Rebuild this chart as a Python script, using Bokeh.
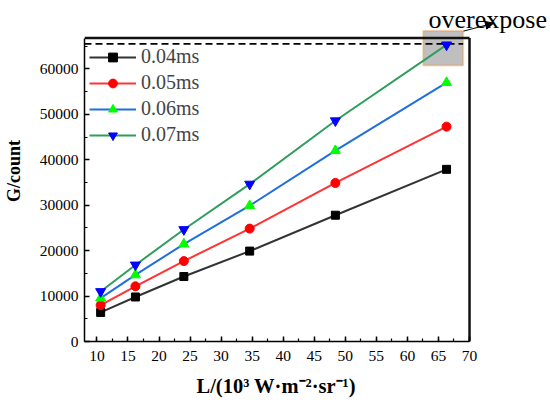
from bokeh.plotting import figure
from bokeh.models import (Range1d, BoxAnnotation, Arrow, NormalHead, Label,
                          Legend, LegendItem, SingleIntervalTicker, Title, Span)
from bokeh.embed import file_html
from bokeh.resources import INLINE

# ---- data ----
radiance = [10.6, 16.2, 24.0, 34.6, 48.4, 66.3]
g_004 = [6400, 9800, 14300, 19900, 27800, 37900]
g_005 = [8000, 12150, 17700, 24850, 34900, 47300]
g_006 = [9550, 14650, 21450, 29900, 42000, 57000]
g_007 = [11000, 16850, 24650, 34650, 48600, 65300]
series_labels = ["0.04ms", "0.05ms", "0.06ms", "0.07ms"]
saturation = 65535
overexpose_text = "overexpose"
x_label = "L/(10\u00b3 W\u00b7m\u207b\u00b2\u00b7sr\u207b\u00b9)"
y_label = "G/count"

# extents of the drawn axes box (the frame itself is larger so that the
# annotation above/right of the axes box is not clipped)
x_min, x_max = 8, 70
y_min, y_max = 0, 66800

SERIF = "Liberation Serif"

p = figure(width=550, height=406, output_backend="svg", toolbar_location=None,
           x_range=Range1d(x_min, 83.04), y_range=Range1d(y_min, 75068),
           min_border_left=84, min_border_right=0, min_border_top=0,
           min_border_bottom=61, background_fill_color="white",
           border_fill_color="white")
p.title.visible = False
p.grid.visible = False
p.outline_line_color = None

p.xaxis.ticker = SingleIntervalTicker(interval=5, num_minor_ticks=2)
p.yaxis.ticker = SingleIntervalTicker(interval=10000, num_minor_ticks=2)
p.xaxis.bounds = (x_min, x_max)
p.yaxis.bounds = (y_min, y_max)
for ax in (p.xaxis[0], p.yaxis[0]):
    ax.axis_line_width = 1.5
    ax.axis_line_color = "black"
    ax.major_tick_in = 5
    ax.major_tick_out = 0
    ax.minor_tick_in = 3
    ax.minor_tick_out = 0
    ax.major_tick_line_width = 1.5
    ax.minor_tick_line_width = 1.2
    ax.major_label_text_font = SERIF
    ax.major_label_text_font_size = "15.5px"
    ax.major_label_text_color = "black"
p.xaxis.major_label_standoff = 9
p.yaxis.major_label_standoff = 6
p.yaxis.axis_label = y_label
p.yaxis.axis_label_text_font = SERIF
p.yaxis.axis_label_text_font_style = "bold"
p.yaxis.axis_label_text_font_size = "18px"
p.yaxis.axis_label_text_line_height = 1.0
p.yaxis.axis_label_text_color = "black"
p.yaxis.axis_label_standoff = 13

# x-axis title placed under the axes box (left aligned with an offset)
xt = Title(text=x_label, align="left", offset=112, text_font=SERIF,
           text_font_style="bold", text_font_size="20.5px",
           text_color="black", standoff=19)
p.add_layout(xt, "below")

# top and right edges of the axes box
p.segment(x0=[x_min, x_max], y0=[y_max, y_max], x1=[x_max, x_max],
          y1=[y_max, y_min], line_color="#111111", line_width=2.5)
p.add_layout(Span(location=y_min, dimension="width", line_alpha=0))

# overexposed region box
box = BoxAnnotation(left=62.54, right=68.98, bottom=60773, top=68432,
                    fill_color="#bfbfbf", fill_alpha=1.0,
                    line_color="#f0801f", line_width=2, level="underlay")
p.add_layout(box)

# saturation dashed line
p.line([x_min, 68.98], [saturation, saturation], line_color="black",
       line_width=1.8, line_dash="7 4")

series = [
    (g_004, "#333333", "black", "square", 8),
    (g_005, "#ff3333", "#ff0000", "circle", 9),
    (g_006, "#1f6fe0", "#00ff00", "triangle", 10),
    (g_007, "#2e9e5e", "#0000ff", "inverted_triangle", 10),
]
items = []
for (vals, lc, mc, mk, sz), lab in zip(series, series_labels):
    r1 = p.line(radiance, vals, line_color=lc, line_width=2)
    r2 = p.scatter(radiance, vals, marker=mk, size=sz, fill_color=mc,
                   line_color=mc)
    items.append(LegendItem(label=lab, renderers=[r1, r2]))

legend = Legend(items=items, location=(5, 195), border_line_color=None,
                background_fill_alpha=0, label_text_font=SERIF,
                label_text_font_size="20px", glyph_width=47,
                glyph_height=22, label_height=22, spacing=3, padding=5,
                margin=0, label_standoff=5)
p.add_layout(legend)

arrow = Arrow(end=NormalHead(size=8, fill_color="black", line_color="black"),
              x_start=69.03, y_start=68323, x_end=73.86, y_end=70064,
              line_color="black", line_width=1)
p.add_layout(arrow)

lbl = Label(x=63.4, y=70934, text=overexpose_text, text_font=SERIF,
            text_font_size="26px", text_baseline="alphabetic",
            text_color="black")
p.add_layout(lbl)

open("out.html", "w").write(file_html(p, INLINE))
